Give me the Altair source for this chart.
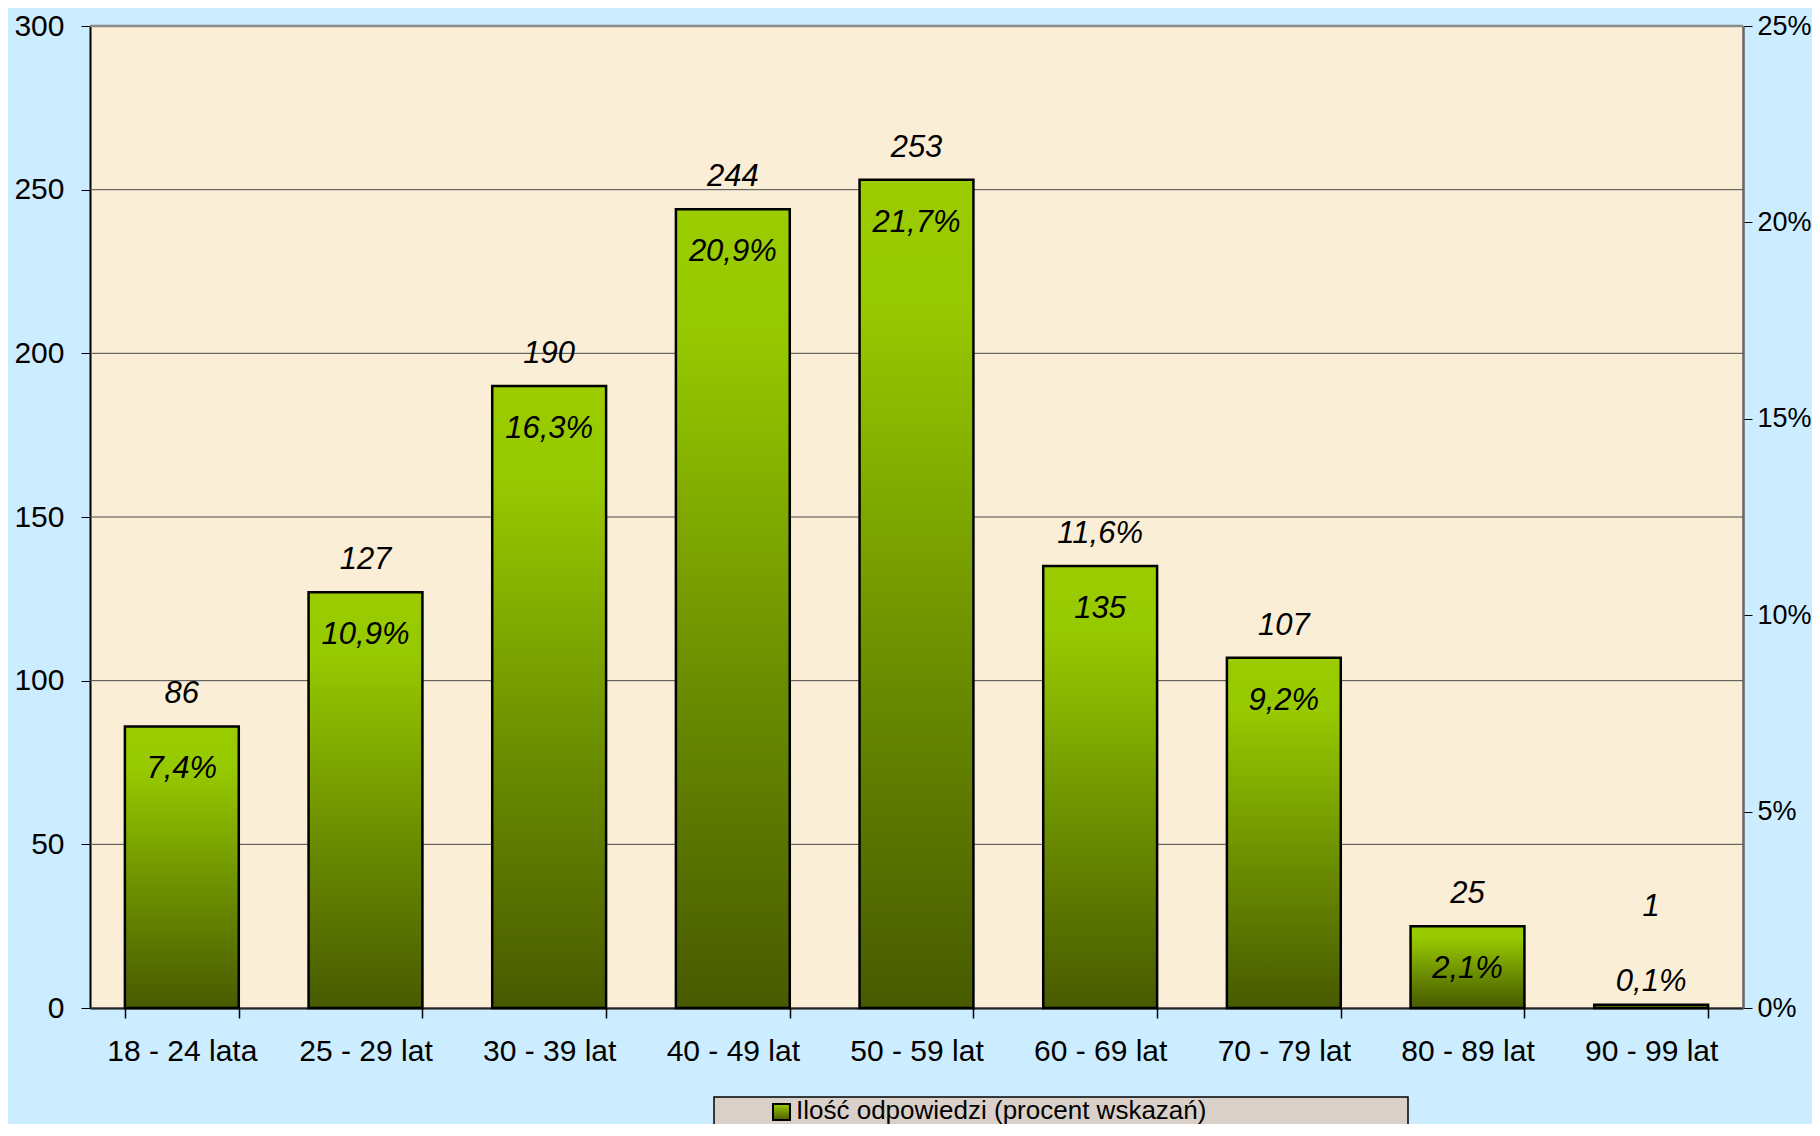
import altair as alt
import pandas as pd

# ---- data ----
categories = ["18 - 24 lata", "25 - 29 lat", "30 - 39 lat", "40 - 49 lat", "50 - 59 lat",
              "60 - 69 lat", "70 - 79 lat", "80 - 89 lat", "90 - 99 lat"]
counts = [86, 127, 190, 244, 253, 135, 107, 25, 1]
percents = [7.4, 10.9, 16.3, 20.9, 21.7, 11.6, 9.2, 2.1, 0.1]
swapped = [False, False, False, False, False, True, False, False, False]
y_ticks = [0, 50, 100, 150, 200, 250, 300]
pct_ticks = [0, 0.05, 0.10, 0.15, 0.20, 0.25]
legend_label = "Ilość odpowiedzi (procent wskazań)"

FONT = "Liberation Sans"

def pl(v):
    return f"{v:.1f}".replace(".", ",") + "%"

rows = []
for c, n, p, s in zip(categories, counts, percents, swapped):
    top = pl(p) if s else str(n)
    inner = str(n) if s else pl(p)
    rows.append({"age": c, "count": n, "pct": p / 100.0, "top": top, "inner": inner})
df = pd.DataFrame(rows)

bar_grad = alt.LinearGradient(
    gradient="linear",
    stops=[alt.GradientStop(color="#9ACC00", offset=0),
           alt.GradientStop(color="#97C900", offset=0.15),
           alt.GradientStop(color="#6A8C00", offset=0.6),
           alt.GradientStop(color="#485A00", offset=1)],
    x1=0, x2=0, y1=0, y2=1,
)

x_enc = alt.X("age:N", sort=categories, title=None,
              scale=alt.Scale(paddingInner=0.38, paddingOuter=0.19),
              axis=alt.Axis(labelFont=FONT, labelFontSize=30, labelColor="black",
                            labelAngle=0, tickBand="extent", tickSize=10,
                            tickColor="black", tickWidth=1.5, labelPadding=18,
                            domainColor="black", domainWidth=2))

y_scale = alt.Scale(domain=[0, 300])

grid = alt.Chart(pd.DataFrame({"v": y_ticks})).mark_rule(color="#4a4a4a", strokeWidth=1).encode(
    y=alt.Y("v:Q", scale=y_scale, title=None,
            axis=alt.Axis(values=y_ticks, grid=False,
                          tickSize=9, tickColor="black", labelPadding=17,
                          labelFont=FONT, labelFontSize=30, labelColor="black",
                          domainColor="black", domainWidth=2)),
)

top_line = alt.Chart(pd.DataFrame({"v": [300]})).mark_rule(color="#8a8a8a", strokeWidth=2.5).encode(
    y=alt.Y("v:Q", scale=y_scale, title=None),
)

bars = alt.Chart(df).mark_bar(fill=bar_grad, stroke="black", strokeWidth=2.5).encode(
    x=x_enc,
    y=alt.Y("count:Q", scale=y_scale, title=None),
)

base_txt = alt.Chart(df).transform_calculate(anchor="max(datum.count, 21)")

top_txt = base_txt.mark_text(font=FONT, fontSize=31, fontStyle="italic", color="black",
                             baseline="middle", dy=-32).encode(
    x=alt.X("age:N", sort=categories),
    y=alt.Y("anchor:Q", scale=y_scale, title=None),
    text="top:N",
)
inner_txt = base_txt.mark_text(font=FONT, fontSize=31, fontStyle="italic", color="black",
                               baseline="middle", dy=43).encode(
    x=alt.X("age:N", sort=categories),
    y=alt.Y("anchor:Q", scale=y_scale, title=None),
    text="inner:N",
)

one = pd.DataFrame({"k": [0]})
leg_box = alt.Chart(one).mark_rect(fill="#D9D0C9", stroke="black", strokeWidth=1.5).encode(
    x=alt.value(624), x2=alt.value(1318), y=alt.value(1071), y2=alt.value(1140))
sq_grad = alt.LinearGradient(
    gradient="linear",
    stops=[alt.GradientStop(color="#9ACC00", offset=0),
           alt.GradientStop(color="#4A5E00", offset=1)],
    x1=0, x2=0, y1=0, y2=1)
leg_sq = alt.Chart(one).mark_rect(fill=sq_grad, stroke="black", strokeWidth=2).encode(
    x=alt.value(683), x2=alt.value(700), y=alt.value(1078), y2=alt.value(1094))
leg_txt = alt.Chart(one).mark_text(font=FONT, fontSize=26, color="black", align="left",
                                   baseline="alphabetic").encode(
    x=alt.value(706), y=alt.value(1093), text=alt.value(legend_label))

main = alt.layer(grid, top_line, bars, top_txt, inner_txt, leg_box, leg_sq, leg_txt)

pct_layer = alt.Chart(df).mark_point(opacity=0).encode(
    x=alt.X("age:N", sort=categories),
    y=alt.Y("pct:Q", scale=alt.Scale(domain=[0, 0.25]), title=None,
            axis=alt.Axis(orient="right", values=pct_ticks, format=".0%", grid=False,
                          tickSize=9, tickColor="black", labelPadding=5,
                          labelFont=FONT, labelFontSize=27, labelColor="black",
                          domainColor="#666666", domainWidth=2.5)),
)

chart = alt.layer(main, pct_layer).resolve_scale(y="independent").properties(
    width=1653, height=982,
    autosize=alt.AutoSizeParams(type="none"),
    padding={"left": 82, "top": 18, "right": 69, "bottom": 116},
    background="#CCECFF",
).configure_view(fill="#FBEED6", stroke="transparent")

chart.save("out.html", embed_options={"renderer": "svg", "actions": False})
